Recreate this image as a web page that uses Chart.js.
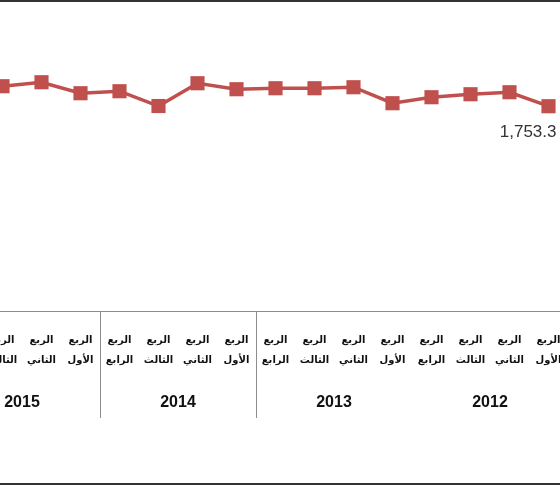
<!DOCTYPE html>
<html>
<head>
<meta charset="utf-8">
<script src="https://cdn.jsdelivr.net/npm/chart.js@4.4.1/dist/chart.umd.min.js"></script>
<style>
html,body{margin:0;padding:0;width:560px;height:490px;overflow:hidden;background:#fff}
#wrap{position:absolute;left:-70px;top:0;width:660px;height:490px}
</style>
</head>
<body>
<div id="wrap"><canvas id="c"></canvas></div>
<script>
// chronological order: 2012 Q1 ... 2015 Q4 (axis drawn right-to-left)
const years = ['2012', '2013', '2014', '2015'];
const quarterWord = 'الربع';
const quarterNames = ['الأول', 'الثاني', 'الثالث', 'الرابع'];
const values = [
  1753.3, 1873.0, 1855.9, 1830.3,
  1779.0, 1915.8, 1907.2, 1907.2,
  1898.7, 1950.0, 1755.0, 1881.6,
  1864.5, 1958.6, 1924.4, 1900.0
];
const labelledIndex = [0];
const yMin = 0, yMax = 2500;

const categories = [];
years.forEach(y => quarterNames.forEach(q => categories.push([quarterWord, q])));

const lineColor = '#C0504D';

const extras = {
  id: 'extras',
  afterDraw(chart) {
    const ctx = chart.ctx;
    const x = chart.scales.x;
    const area = chart.chartArea;
    const W = chart.width;
    ctx.save();
    // frame lines (top and bottom)
    ctx.fillStyle = '#333';
    ctx.fillRect(0, 0, W, 2);
    ctx.fillRect(0, 483, W, 2);
    // year group labels and separators
    ctx.font = 'bold 16px "Liberation Sans", Arial, sans-serif';
    ctx.fillStyle = '#111';
    ctx.textAlign = 'center';
    ctx.textBaseline = 'middle';
    years.forEach((yr, g) => {
      const a = x.getPixelForValue(g * 4);
      const b = x.getPixelForValue(g * 4 + 3);
      ctx.fillText(yr, (a + b) / 2, area.bottom + 92);
    });
    ctx.strokeStyle = '#8c8c8c';
    ctx.lineWidth = 1;
    [2, 3].forEach(g => {
      const a = x.getPixelForValue(g * 4 - 1);
      const b = x.getPixelForValue(g * 4);
      const sx = Math.round((a + b) / 2) + 0.5;
      ctx.beginPath();
      ctx.moveTo(sx, area.bottom);
      ctx.lineTo(sx, area.bottom + 107);
      ctx.stroke();
    });
    // data labels
    const meta = chart.getDatasetMeta(0);
    ctx.font = '17px "Liberation Sans", Arial, sans-serif';
    ctx.fillStyle = '#333';
    ctx.textAlign = 'right';
    labelledIndex.forEach(i => {
      const p = meta.data[i];
      const txt = values[i].toLocaleString('en-US', {minimumFractionDigits: 1, maximumFractionDigits: 1});
      ctx.fillText(txt, p.x + 8, p.y + 26);
    });
    ctx.restore();
  }
};

new Chart(document.getElementById('c'), {
  type: 'line',
  data: {
    labels: categories,
    datasets: [{
      data: values,
      borderColor: lineColor,
      backgroundColor: lineColor,
      borderWidth: 3.5,
      pointStyle: 'rect',
      pointRadius: 10,
      pointHoverRadius: 10,
      pointBorderWidth: 0,
      tension: 0,
      clip: false
    }]
  },
  options: {
    responsive: true,
    maintainAspectRatio: false,
    animation: false,
    events: [],
    layout: {padding: {left: 14, right: 22, top: 19, bottom: 0}},
    plugins: {legend: {display: false}, tooltip: {enabled: false}},
    scales: {
      x: {
        reverse: true,
        offset: true,
        grid: {display: false, drawTicks: false},
        border: {display: true, color: '#8c8c8c', width: 1},
        ticks: {
          autoSkip: false,
          maxRotation: 0,
          minRotation: 0,
          padding: 19,
          color: '#111',
          font: {family: '"DejaVu Sans", sans-serif', size: 10, weight: 'bold', lineHeight: 2}
        },
        afterFit(scale) { scale.height = 179; }
      },
      y: {display: false, min: yMin, max: yMax}
    }
  },
  plugins: [extras]
});
</script>
</body>
</html>
